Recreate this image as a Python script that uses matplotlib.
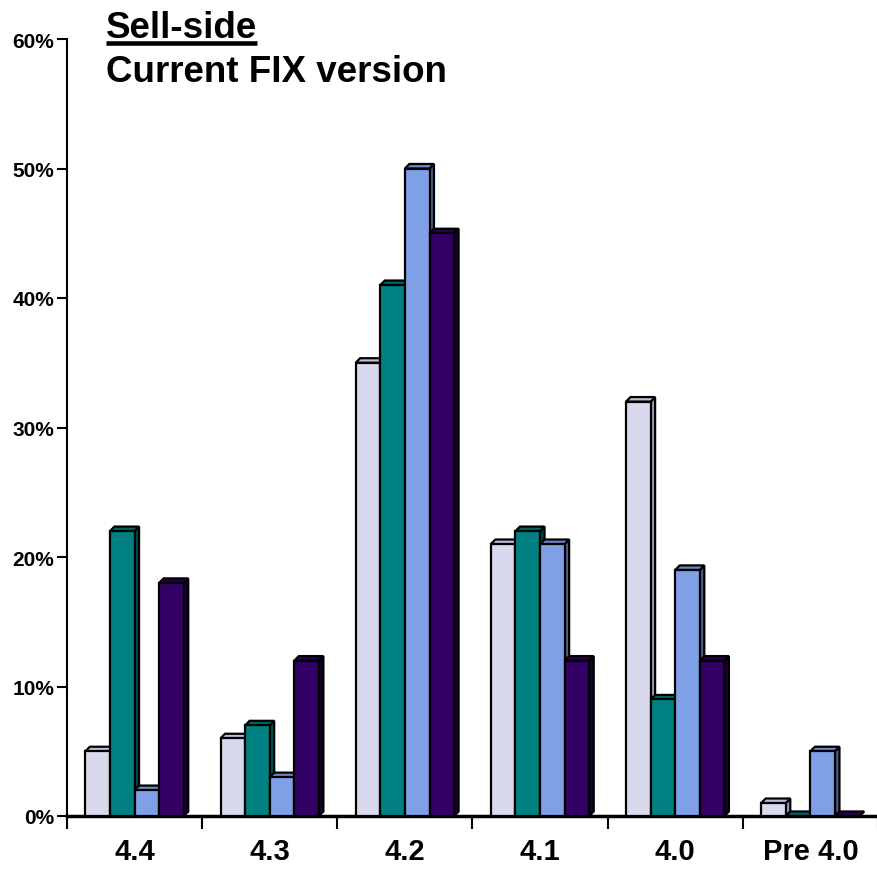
import numpy as np
import matplotlib
matplotlib.use("Agg")
import matplotlib.pyplot as plt
from matplotlib.patches import Polygon, Rectangle
from matplotlib.lines import Line2D

# FIX version share by respondent group (percent)
categories = ["4.4", "4.3", "4.2", "4.1", "4.0", "Pre 4.0"]
series_a = [5, 6, 35, 21, 32, 1]
series_b = [22, 7, 41, 22, 9, 0]
series_c = [2, 3, 50, 21, 19, 5]
series_d = [18, 12, 45, 12, 12, 0]
y_ticks = [0, 10, 20, 30, 40, 50, 60]

# front / top / side colours for each series
palette = [
    ("#D9D9EE", "#BDBDD8", "#9C9CB8"),
    ("#008080", "#006666", "#004C4C"),
    ("#7F9FE6", "#6A86C4", "#4D5F8A"),
    ("#330066", "#2A0052", "#1A0033"),
]

plt.rcParams["font.family"] = ["Liberation Sans", "DejaVu Sans"]
plt.rcParams["font.weight"] = "bold"

fig = plt.figure(figsize=(8.78, 8.70), dpi=100)
ax = fig.add_axes([67 / 878, 53 / 870, 811 / 878, 777 / 870])

bar_w = 0.182
left_gap = (1 - 4 * bar_w) / 2
dx, dy = 0.033, 0.35   # fake 3-D depth in data units
edge = dict(edgecolor="black", linewidth=1.6, joinstyle="miter")

all_series = [series_a, series_b, series_c, series_d]
z = 3
for i in range(len(categories)):
    for j, vals in enumerate(all_series):
        h = vals[i]
        x0 = i + left_gap + j * bar_w
        front, top, side = palette[j]
        ax.add_patch(Polygon([(x0 + bar_w, 0), (x0 + bar_w + dx, dy),
                              (x0 + bar_w + dx, h + dy), (x0 + bar_w, h)],
                             facecolor=side, zorder=z, **edge))
        ax.add_patch(Polygon([(x0, h), (x0 + dx, h + dy),
                              (x0 + bar_w + dx, h + dy), (x0 + bar_w, h)],
                             facecolor=top, zorder=z, **edge))
        ax.add_patch(Rectangle((x0, 0), bar_w, h, facecolor=front,
                               zorder=z, **edge))
        z += 1

ax.set_xlim(0, len(categories))
ax.set_ylim(0, 60)

for s in ["top", "right"]:
    ax.spines[s].set_visible(False)
ax.spines["left"].set_linewidth(1.5)
ax.spines["bottom"].set_linewidth(2.5)
ax.spines["bottom"].set_zorder(2)

ax.set_yticks(y_ticks)
ax.set_yticklabels([f"{v}%" for v in y_ticks], fontsize=15, fontweight="bold")
ax.tick_params(axis="y", length=7, width=1.5, pad=2)

ax.set_xticks(np.arange(len(categories) + 1))
ax.set_xticklabels([])
ax.tick_params(axis="x", which="major", direction="out", length=9, width=1.5)
ax.set_xticks(np.arange(len(categories)) + 0.5, minor=True)
ax.set_xticklabels(categories, minor=True, fontsize=21, fontweight="bold")
ax.tick_params(axis="x", which="minor", length=0, pad=15)

ax.patch.set_visible(False)

t1 = fig.text(106 / 878, 1 - 37.5 / 870, "Sell-side", fontsize=26.5,
              fontweight="bold", va="baseline", ha="left")
fig.text(106 / 878, 1 - 82 / 870, "Current FIX version", fontsize=26.5,
         fontweight="bold", va="baseline", ha="left")

# underline the first title line
fig.canvas.draw()
bb = t1.get_window_extent().transformed(fig.transFigure.inverted())
uy = 1 - 43.5 / 870
fig.add_artist(Line2D([bb.x0, bb.x1], [uy, uy], transform=fig.transFigure,
                      color="black", linewidth=3.3, solid_capstyle="butt"))

fig.savefig("out.png", dpi=100)
